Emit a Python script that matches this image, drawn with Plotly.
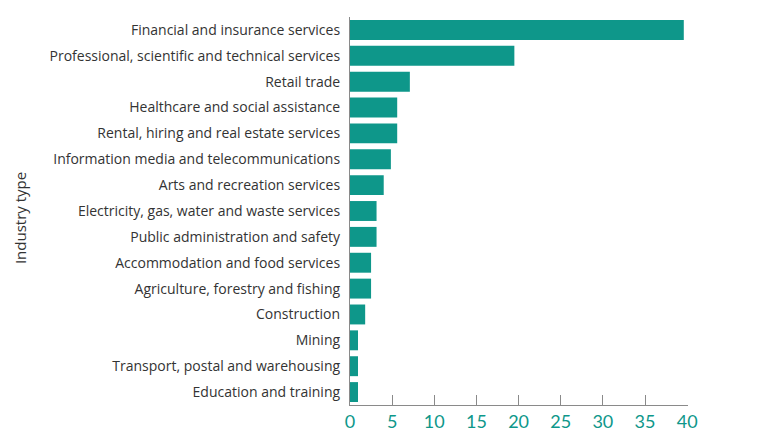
import plotly.graph_objects as go

# industries, top to bottom as shown
industries = [
    'Financial and insurance services',
    'Professional, scientific and technical services',
    'Retail trade',
    'Healthcare and social assistance',
    'Rental, hiring and real estate services',
    'Information media and telecommunications',
    'Arts and recreation services',
    'Electricity, gas, water and waste services',
    'Public administration and safety',
    'Accommodation and food services',
    'Agriculture, forestry and fishing',
    'Construction',
    'Mining',
    'Transport, postal and warehousing',
    'Education and training',
]
values = [39.6, 19.5, 7.1, 5.6, 5.6, 4.85, 4.0, 3.15, 3.15, 2.5, 2.5, 1.8, 0.95, 0.95, 0.95]
x_ticks = [0, 5, 10, 15, 20, 25, 30, 35, 40]

teal = '#0e978a'

fig = go.Figure()
fig.add_trace(go.Bar(x=values, y=industries, orientation='h',
                     marker=dict(color=teal, line=dict(width=0)), width=0.77))

# page body adds ~8px offset, so figure is a bit smaller than the window
fig.update_layout(
    width=760, height=426,
    margin=dict(l=342, r=80, t=9, b=29, autoexpand=False),
    plot_bgcolor='white', paper_bgcolor='white',
    font=dict(family='Open Sans', size=14, color='#333333'),
    showlegend=False,
    bargap=0.23,
)
fig.update_xaxes(range=[0, 40.1], tickvals=x_ticks, showgrid=False, zeroline=False,
                 showline=True, linecolor='#8a8a8a', linewidth=1.2, automargin=False,
                 ticks='inside', ticklen=10, tickwidth=1.2, tickcolor='#8a8a8a',
                 ticklabelstandoff=0,
                 tickfont=dict(size=18, color=teal, family='Lato'))
fig.update_yaxes(autorange='reversed', showgrid=False, showline=True, automargin=False,
                 linecolor='#8a8a8a', linewidth=1.2, ticks='', ticklabelstandoff=6)

# axis title placed by hand so it sits near the left edge
fig.add_annotation(text='Industry type', xref='paper', yref='paper',
                   x=-0.976, y=0.482, xanchor='center', yanchor='middle',
                   textangle=-90, showarrow=False,
                   font=dict(size=15, color='#333333'))

fig.write_html('out.html')
